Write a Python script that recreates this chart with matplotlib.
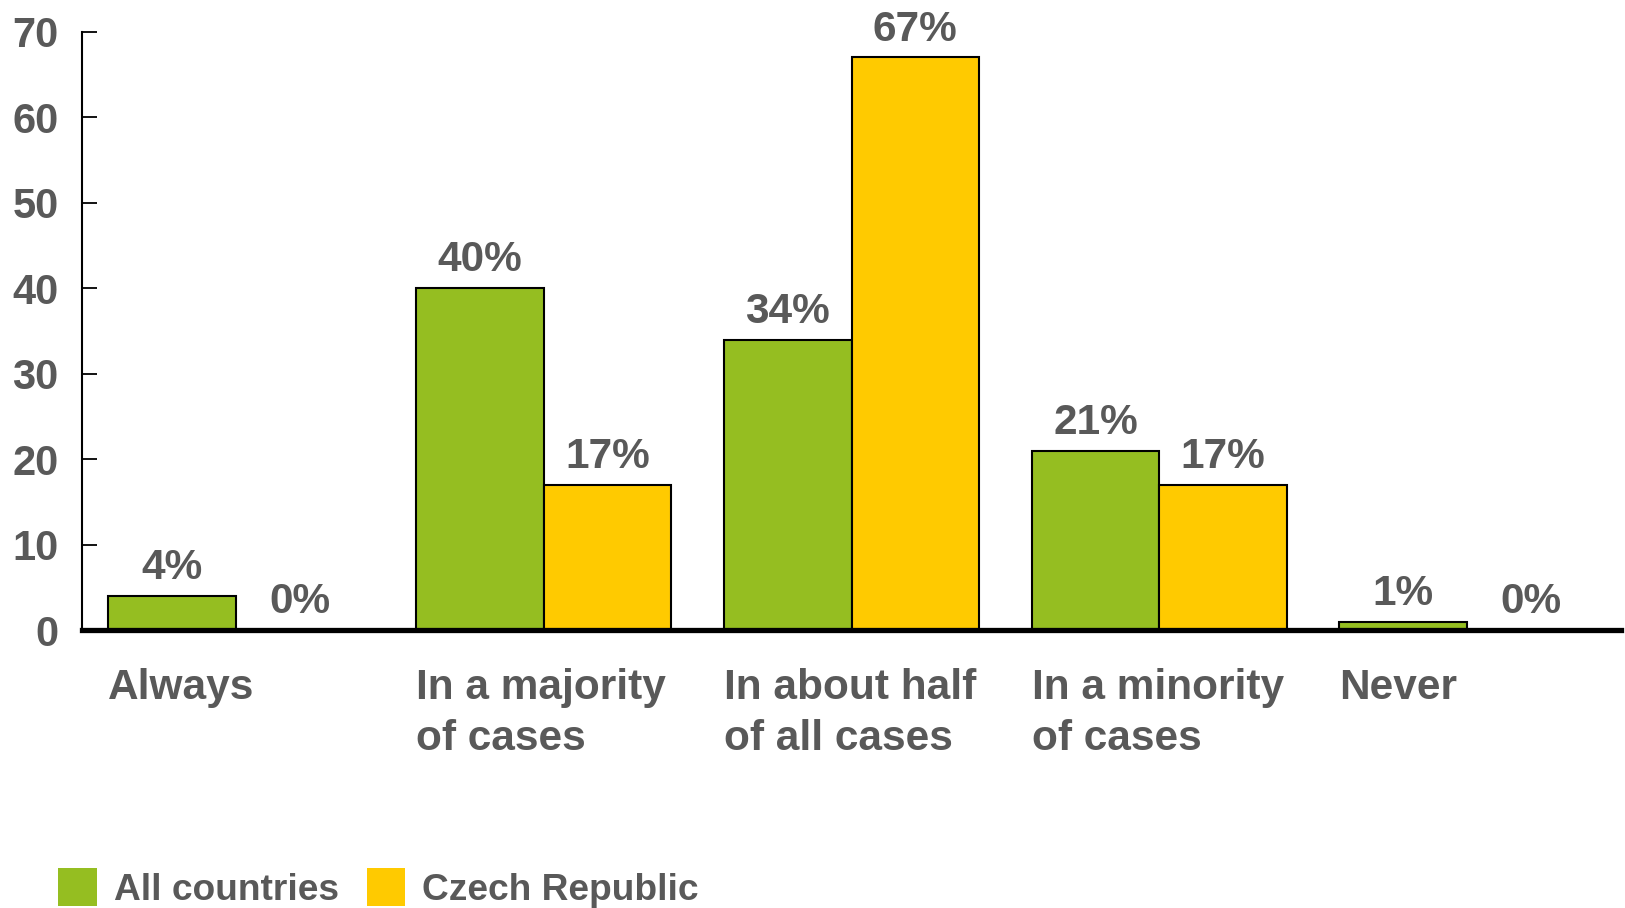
import matplotlib
matplotlib.use("Agg")
import matplotlib.pyplot as plt
import numpy as np
from matplotlib.patches import Patch

categories = ["Always", "In a majority\nof cases", "In about half\nof all cases",
              "In a minority\nof cases", "Never"]
all_countries = [4, 40, 34, 21, 1]
czech = [0, 17, 67, 17, 0]
series_names = ["All countries", "Czech Republic"]
yticks = [0, 10, 20, 30, 40, 50, 60, 70]

GREEN = "#95BE21"
YELLOW = "#FFCA00"
GREY = "#595959"

plt.rcParams["font.family"] = ["Liberation Sans", "DejaVu Sans"]
plt.rcParams["font.weight"] = "bold"

fig = plt.figure(figsize=(16.25, 9.08), dpi=100)
ax = fig.add_axes([0.0505, 0.306, 0.947, 0.659])

x = np.arange(len(categories))
w = 0.415
b1 = ax.bar(x - w / 2, all_countries, w, color=GREEN, edgecolor="black", linewidth=1.5)
b2 = ax.bar(x + w / 2, czech, w, color=YELLOW, edgecolor="black", linewidth=1.5)

for bars, vals in [(b1, all_countries), (b2, czech)]:
    for r, v in zip(bars, vals):
        ax.annotate(f"{v}%", (r.get_x() + r.get_width() / 2, v), xytext=(0, 20),
                    textcoords="offset points", ha="center", va="center",
                    fontsize=30.5, fontweight="bold", color=GREY)

ax.set_xlim(-0.5, len(categories) - 0.5)
ax.set_ylim(0, 70)
ax.set_yticks(yticks)
ax.set_yticklabels([str(t) for t in yticks], fontsize=30, fontweight="bold", color=GREY)
ax.tick_params(axis="y", direction="in", length=11, width=1.3, pad=17)

ax.set_xticks(x - w)
ax.set_xticklabels(categories, ha="left", fontsize=30.5, fontweight="bold", color=GREY,
                   linespacing=1.37)
ax.tick_params(axis="x", length=0, pad=27)

for s in ["top", "right"]:
    ax.spines[s].set_visible(False)
ax.spines["left"].set_linewidth(1.5)
ax.spines["bottom"].set_linewidth(3.8)
ax.spines["bottom"].set_zorder(5)

handles = [Patch(facecolor=GREEN, edgecolor="none"), Patch(facecolor=YELLOW, edgecolor="none")]
fig.legend(handles, series_names, loc="center left", bbox_to_anchor=(0.036, 0.022),
           ncol=2, frameon=False, handlelength=1.04, handleheight=1.2,
           handletextpad=0.45, columnspacing=0.75, borderpad=0, borderaxespad=0,
           labelcolor=GREY, prop={"weight": "bold", "size": 26.7})

fig.savefig("out.png", dpi=100)
